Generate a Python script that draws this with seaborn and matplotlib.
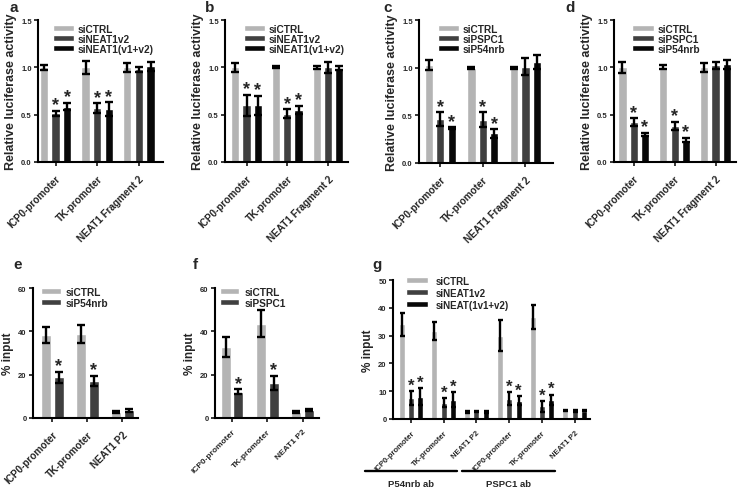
import numpy as np
import pandas as pd
import matplotlib
matplotlib.use("Agg")
from matplotlib import pyplot as plt
import seaborn as sns

# categorias de los ejes x
luc_sites = ["ICP0-promoter", "TK-promoter", "NEAT1 Fragment 2"]
chip_sites = ["ICP0-promoter", "TK-promoter", "NEAT1 P2"]
g_sites = chip_sites + chip_sites

# panel a
a_groups = ["siCTRL", "siNEAT1v2", "siNEAT1(v1+v2)"]
a_mean = [[1.00, 1.00, 1.00], [0.515, 0.57, 0.98], [0.585, 0.56, 1.01]]
a_sd = [[0.027, 0.07, 0.045], [0.025, 0.05, 0.025], [0.04, 0.07, 0.045]]
a_star = [[0, 0, 0], [1, 1, 0], [1, 1, 0]]

# panel b
b_groups = ["siCTRL", "siNEAT1v2", "siNEAT1(v1+v2)"]
b_mean = [[1.00, 1.00, 1.00], [0.60, 0.51, 1.00], [0.60, 0.55, 0.99]]
b_sd = [[0.045, 0.01, 0.015], [0.11, 0.045, 0.055], [0.10, 0.045, 0.02]]
b_star = [[0, 0, 0], [1, 1, 0], [1, 1, 0]]

# panel c
c_groups = ["siCTRL", "siPSPC1", "siP54nrb"]
c_mean = [[1.03, 1.00, 1.00], [0.46, 0.455, 1.01], [0.367, 0.31, 1.06]]
c_sd = [[0.05, 0.01, 0.01], [0.07, 0.08, 0.09], [0.01, 0.045, 0.07]]
c_star = [[0, 0, 0], [1, 1, 0], [1, 1, 0]]

# panel d
d_groups = ["siCTRL", "siPSPC1", "siP54nrb"]
d_mean = [[1.00, 1.00, 1.00], [0.42, 0.38, 1.02], [0.29, 0.235, 1.03]]
d_sd = [[0.055, 0.02, 0.05], [0.04, 0.045, 0.04], [0.02, 0.02, 0.05]]
d_star = [[0, 0, 0], [1, 1, 0], [1, 1, 0]]

# panel e
e_groups = ["siCTRL", "siP54nrb"]
e_mean = [[38.2, 38.6, 2.9], [18.7, 17.1, 3.5]]
e_sd = [[3.6, 4.1, 0.5], [2.7, 2.5, 0.6]]
e_star = [[0, 0, 0], [1, 1, 0]]

# panel f
f_groups = ["siCTRL", "siPSPC1"]
f_mean = [[32.7, 43.6, 2.8], [12.2, 16.2, 3.7]]
f_sd = [[4.6, 6.3, 0.4], [1.0, 3.4, 0.4]]
f_star = [[0, 0, 0], [1, 1, 0]]

# panel g
g_groups = ["siCTRL", "siNEAT1v2", "siNEAT(1v1+v2)"]
g_mean = [[34.0, 31.7, 2.6, 30.0, 36.8, 3.1],
          [7.5, 5.8, 2.7, 7.3, 4.5, 2.8],
          [8.0, 7.0, 2.6, 6.6, 7.0, 3.0]]
g_sd = [[4.2, 3.2, 0.4, 5.5, 4.3, 0.3],
        [2.4, 1.6, 0.3, 2.4, 2.0, 0.3],
        [3.0, 2.6, 0.3, 1.7, 1.8, 0.3]]
g_star = [[0, 0, 0, 0, 0, 0], [1, 1, 0, 1, 1, 0], [1, 1, 0, 1, 1, 0]]
g_antibodies = ["P54nrb ab", "PSPC1 ab"]

colors = ["#b4b4b4", "#404040", "#080808"]

sns.set_theme(style="ticks")
plt.rcParams["font.family"] = ["Liberation Sans", "DejaVu Sans"]
plt.rcParams["font.weight"] = "bold"
plt.rcParams["axes.labelweight"] = "bold"

W, H = 738, 489
fig = plt.figure(figsize=(W / 100, H / 100), dpi=100)


def rect(x0, y0, x1, y1):
    return [x0 / W, 1 - y1 / H, (x1 - x0) / W, (y1 - y0) / H]


def panel(box, cats, groups, means, sds, stars, width, gap, xlim, ylim, yticks, ylabel,
          leg_x, leg_y, leg_fs=7.3, x_fs=7.2, x_pad=5, y_fs=5.5, lab_fs=9, cap=2.8,
          star_fs=13, handlelen=2.1, textpad=0.35, labsp=0.0):
    ax = fig.add_axes(rect(*box))
    df = pd.DataFrame({
        "site": np.tile(np.arange(len(cats)), len(groups)),
        "grupo": np.repeat(groups, len(cats)),
        "valor": np.ravel(means),
    })
    sns.barplot(data=df, x="site", y="valor", hue="grupo", hue_order=groups,
                palette=colors[:len(groups)], saturation=1, width=width, gap=gap,
                errorbar=None, ax=ax)
    for cont, sd, st in zip(ax.containers, sds, stars):
        xs = [b.get_x() + b.get_width() / 2 for b in cont]
        hs = [b.get_height() for b in cont]
        ax.errorbar(xs, hs, yerr=sd, fmt="none", ecolor="black", elinewidth=1.7,
                    capsize=cap, capthick=1.7, zorder=3)
        for x, h, e, s in zip(xs, hs, sd, st):
            if s:
                ax.annotate("*", (x, h + e), xytext=(0, 1.0), textcoords="offset points",
                            ha="center", va="baseline", fontsize=star_fs, fontweight="bold")
    ax.set_xlim(*xlim)
    ax.set_ylim(*ylim)
    ax.set_yticks(yticks)
    ax.set_xticks(range(len(cats)))
    ax.set_xticklabels(cats, rotation=45, ha="right", rotation_mode="anchor",
                       fontsize=x_fs, fontweight="bold")
    ax.tick_params(axis="y", labelsize=y_fs, length=3, width=1.3, pad=1.5)
    ax.tick_params(axis="x", length=3, width=1.3, pad=x_pad)
    for lbl in ax.get_yticklabels():
        lbl.set_fontweight("bold")
    ax.set_xlabel("")
    ax.set_ylabel(ylabel, fontsize=lab_fs, fontweight="bold", labelpad=3)
    sns.despine(ax=ax)
    for s in ["left", "bottom"]:
        ax.spines[s].set_linewidth(1.5)
        ax.spines[s].set_color("black")
    sns.move_legend(ax, "upper left", bbox_to_anchor=(leg_x, leg_y), title=None,
                    frameon=False, prop={"size": leg_fs, "weight": "bold"},
                    handlelength=handlelen, handleheight=0.6, handletextpad=textpad,
                    labelspacing=labsp, borderpad=0, borderaxespad=0)
    return ax


luc_ticks = [0.0, 0.5, 1.0, 1.5]
luc_label = "Relative luciferase activity"

ax_a = panel((38, 21, 163, 163), luc_sites, a_groups, a_mean, a_sd, a_star, 0.84, 0.29,
             (-0.42, 2.58), (0, 1.5), luc_ticks, luc_label, 0.12, 0.975)
ax_b = panel((225, 21, 348, 163), luc_sites, b_groups, b_mean, b_sd, b_star, 0.83, 0.27,
             (-0.53, 2.49), (0, 1.5), luc_ticks, luc_label, 0.155, 0.975)
ax_c = panel((419, 21, 553, 164), luc_sites, c_groups, c_mean, c_sd, c_star, 0.81, 0.27,
             (-0.5, 2.65), (0, 1.5), luc_ticks, luc_label, 0.14, 0.975)
ax_d = panel((614, 21, 736, 163), luc_sites, d_groups, d_mean, d_sd, d_star, 0.82, 0.27,
             (-0.48, 2.5), (0, 1.5), luc_ticks, luc_label, 0.15, 0.975)
for ax in [ax_a, ax_b, ax_c, ax_d]:
    ax.yaxis.set_major_formatter(matplotlib.ticker.FormatStrFormatter("%.1f"))

ax_e = panel((33, 289, 138, 419), chip_sites, e_groups, e_mean, e_sd, e_star, 0.76, 0.25,
             (-0.55, 2.45), (0, 60), [0, 20, 40, 60], "% input", 0.08, 1.01,
             leg_fs=7.3, x_fs=7.2, lab_fs=8.5, cap=3.0, handlelen=1.9, textpad=0.5, labsp=0.1)
ax_f = panel((215, 289, 319, 419), chip_sites, f_groups, f_mean, f_sd, f_star, 0.71, 0.21,
             (-0.48, 2.46), (0, 60), [0, 20, 40, 60], "% input", 0.05, 1.01,
             leg_fs=7.3, x_fs=6, x_pad=4, lab_fs=8.5, cap=3.0, handlelen=1.9, textpad=0.5,
             labsp=0.1)
ax_g = panel((393, 281, 590, 420), g_sites, g_groups, g_mean, g_sd, g_star, 0.86, 0.36,
             (-0.55, 5.47), (0, 50), [0, 10, 20, 30, 40, 50], "% input", 0.066, 1.03,
             leg_fs=7, x_fs=5.6, x_pad=4, y_fs=5.5, lab_fs=8.5, cap=1.8, handlelen=2.3,
             textpad=0.75, labsp=0.2, star_fs=12)

# lineas de anticuerpos bajo el panel g
trans = matplotlib.transforms.blended_transform_factory(ax_g.transData, ax_g.transAxes)
for (x0, x1), name in zip([(-1.41, 1.41), (1.56, 4.4)], g_antibodies):
    ax_g.plot([x0, x1], [-0.374, -0.374], color="black", lw=1.7, transform=trans, clip_on=False)
    ax_g.text((x0 + x1) / 2, -0.435, name, transform=trans, ha="center", va="top",
              fontsize=6.8, fontweight="bold")

# letras de panel
for x, y, letter in [(10, 8, "a"), (205, 8, "b"), (383, 8, "c"), (565, 8, "d"),
                     (13, 265, "e"), (193, 265, "f"), (372, 265, "g")]:
    fig.text(x / W, 1 - y / H, letter, fontsize=11, fontweight="bold", ha="left", va="center")

fig.savefig("out.png", dpi=100)
